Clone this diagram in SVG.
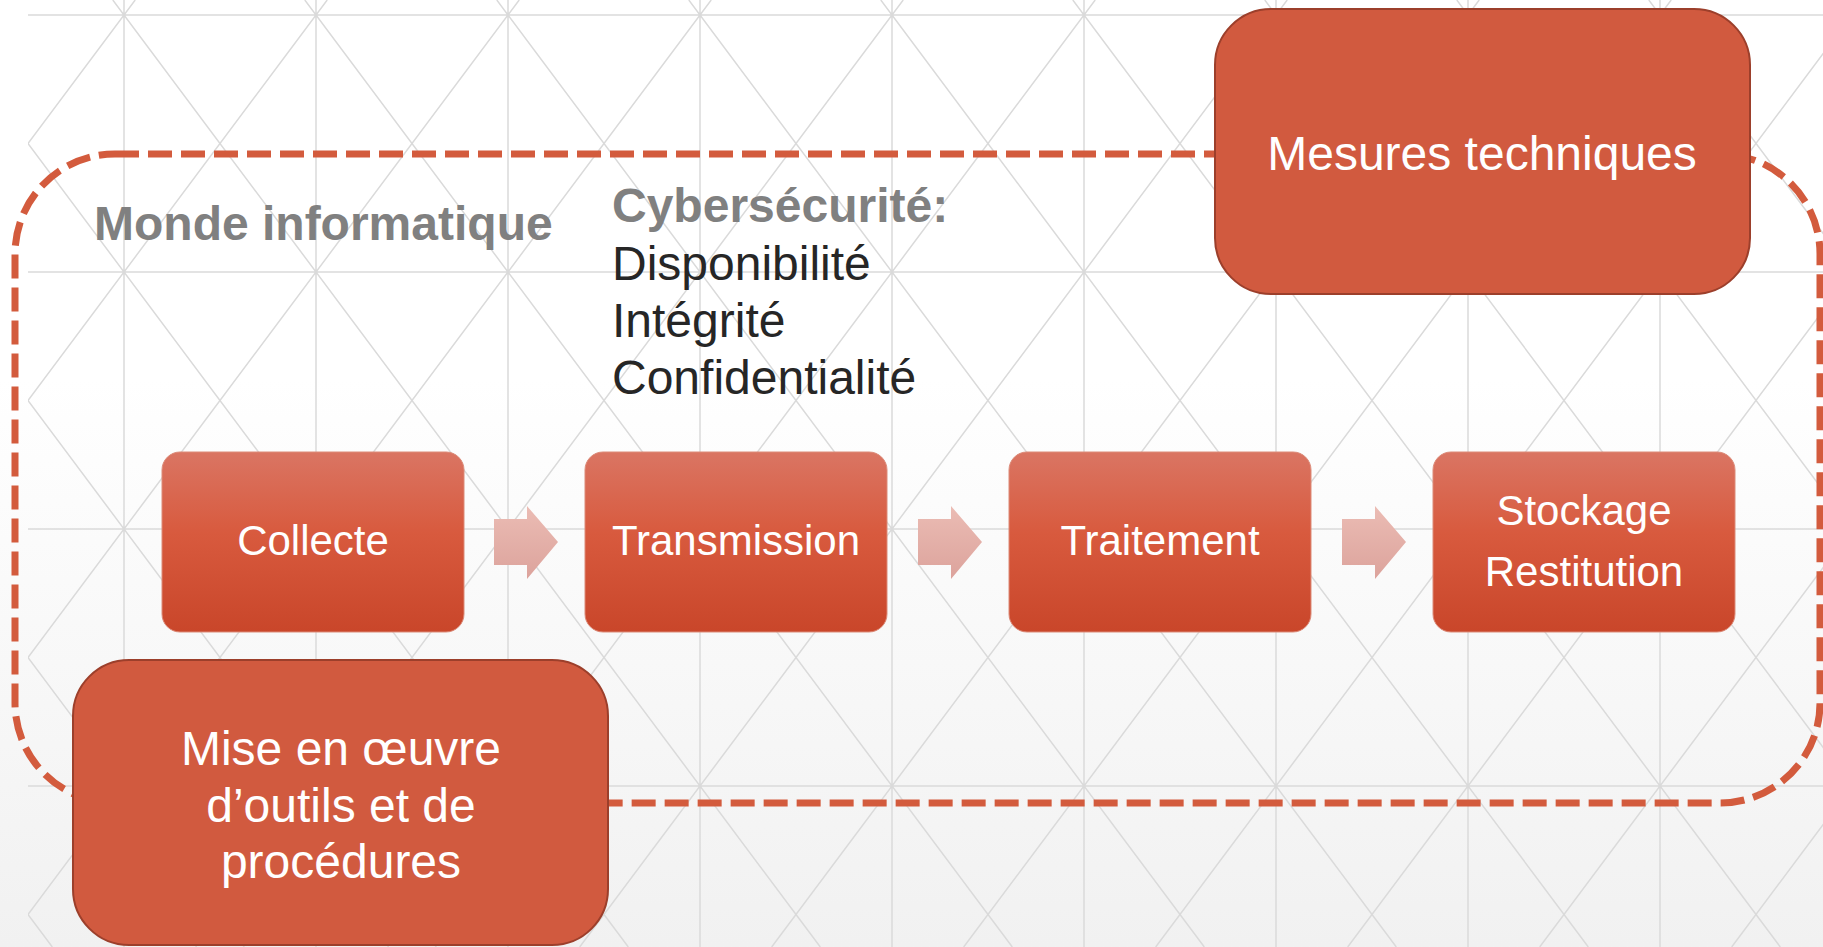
<svg xmlns="http://www.w3.org/2000/svg" width="1823" height="947" viewBox="0 0 1823 947">
<defs>
<linearGradient id="bg" x1="0" y1="0" x2="0" y2="1">
<stop offset="0" stop-color="#FFFFFF"/>
<stop offset="0.4" stop-color="#FFFFFF"/>
<stop offset="1" stop-color="#F1F1F1"/>
</linearGradient>
<linearGradient id="proc" x1="0" y1="0" x2="0" y2="1">
<stop offset="0" stop-color="#DA7563"/>
<stop offset="0.45" stop-color="#D85A3E"/>
<stop offset="1" stop-color="#C9462A"/>
</linearGradient>
<linearGradient id="arr" x1="0" y1="0" x2="0" y2="1">
<stop offset="0" stop-color="#EBBCB4"/>
<stop offset="1" stop-color="#DCA39C"/>
</linearGradient>
<clipPath id="gridclip"><rect x="28" y="0" width="1795" height="947"/></clipPath>
</defs>
<style>
.grid{fill:none;stroke:#DADADA;stroke-width:1.5}
.frame{fill:none;stroke:#D35B3D;stroke-width:7;stroke-dasharray:24 9}
.proc{fill:url(#proc);stroke:#DC8B79;stroke-width:1}
.big{fill:#D15A3F;stroke:#9C3F2B;stroke-width:2}
.arrow{fill:url(#arr)}
.wt{fill:#FFFFFF;font-family:"Liberation Sans",Arial,sans-serif;text-anchor:middle}
.t42{font-size:42px}
.t48{font-size:48px}
.head{fill:#808080;font-family:"Liberation Sans",Arial,sans-serif;font-weight:bold;font-size:48px}
.body{fill:#262626;font-family:"Liberation Sans",Arial,sans-serif;font-size:48px}
</style>
<rect x="0" y="0" width="1823" height="947" fill="url(#bg)"/>
<g id="background-grid" clip-path="url(#gridclip)">
<path class="grid" d="M124 0V947M316 0V947M508 0V947M700 0V947M892 0V947M1084 0V947M1276 0V947M1468 0V947M1660 0V947
M28 15H1823M28 272H1823M28 529H1823M28 786H1823
M-655.2 0L52.3 947M-463.2 0L244.3 947M-271.2 0L436.3 947M-79.2 0L628.3 947M112.8 0L820.3 947M304.8 0L1012.3 947M496.8 0L1204.3 947M688.8 0L1396.3 947M880.8 0L1588.3 947M1072.8 0L1780.3 947M1264.8 0L1972.3 947M1456.8 0L2164.3 947M1648.8 0L2356.3 947
M135.2 0L-572.3 947M327.2 0L-380.3 947M519.2 0L-188.3 947M711.2 0L3.7 947M903.2 0L195.7 947M1095.2 0L387.7 947M1287.2 0L579.7 947M1479.2 0L771.7 947M1671.2 0L963.7 947M1863.2 0L1155.7 947M2055.2 0L1347.7 947M2247.2 0L1539.7 947M2439.2 0L1731.7 947"/>
</g>
<g id="monde-informatique-frame">
<rect class="frame" x="15" y="154" width="1805" height="649" rx="100" ry="100"/>
<text class="head" x="94" y="240">Monde informatique</text>
</g>
<g id="cybersecurite">
<text class="head" x="612" y="222">Cybersécurité:</text>
<text class="body" x="612" y="280">Disponibilité</text>
<text class="body" x="612" y="337">Intégrité</text>
<text class="body" x="612" y="394">Confidentialité</text>
</g>
<g id="connectors">
<path class="arrow" d="M494 519H527V506L558 542L527 579V565H494Z"/>
<path class="arrow" d="M918 519H951V506L982 542L951 579V565H918Z"/>
<path class="arrow" d="M1342 519H1375V506L1406 542L1375 579V565H1342Z"/>
</g>
<g id="collecte">
<rect class="proc" x="162" y="452" width="302" height="180" rx="18" ry="18"/>
<text class="wt t42" x="313" y="555">Collecte</text>
</g>
<g id="transmission">
<rect class="proc" x="585" y="452" width="302" height="180" rx="18" ry="18"/>
<text class="wt t42" x="736" y="555">Transmission</text>
</g>
<g id="traitement">
<rect class="proc" x="1009" y="452" width="302" height="180" rx="18" ry="18"/>
<text class="wt t42" x="1160" y="555">Traitement</text>
</g>
<g id="stockage-restitution">
<rect class="proc" x="1433" y="452" width="302" height="180" rx="18" ry="18"/>
<text class="wt t42" x="1584" y="525">Stockage</text>
<text class="wt t42" x="1584" y="586">Restitution</text>
</g>
<g id="mesures-techniques">
<rect class="big" x="1215" y="9" width="535" height="285" rx="56" ry="56"/>
<text class="wt t48" x="1482" y="170">Mesures techniques</text>
</g>
<g id="mise-en-oeuvre">
<rect class="big" x="73" y="660" width="535" height="285" rx="56" ry="56"/>
<text class="wt t48" x="341" y="765">Mise en œuvre</text>
<text class="wt t48" x="341" y="822">d’outils et de</text>
<text class="wt t48" x="341" y="878">procédures</text>
</g>
</svg>
